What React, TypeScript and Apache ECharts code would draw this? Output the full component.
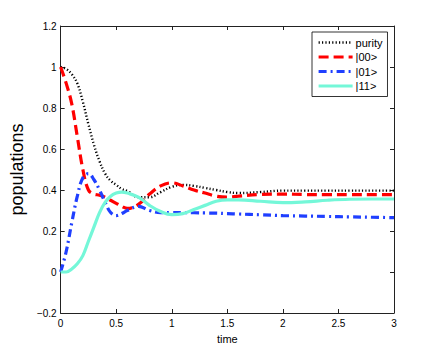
import React, { useEffect, useRef } from "react";
import * as echarts from "echarts";

const times = [0, 0.05, 0.1, 0.15, 0.2, 0.25, 0.3, 0.35, 0.4, 0.45, 0.5, 0.55, 0.6, 0.7, 0.8, 0.9, 1.0, 1.1, 1.2, 1.3, 1.4, 1.5, 1.6, 1.8, 2.0, 2.2, 2.4, 2.6, 2.8, 3.0];
const purity = [1.0, 0.99, 0.965, 0.92, 0.83, 0.72, 0.62, 0.54, 0.48, 0.445, 0.425, 0.405, 0.395, 0.365, 0.365, 0.39, 0.415, 0.425, 0.42, 0.41, 0.40, 0.39, 0.385, 0.39, 0.397, 0.397, 0.397, 0.397, 0.397, 0.397];
const pop00 = [1.0, 0.92, 0.82, 0.66, 0.50, 0.40, 0.38, 0.375, 0.365, 0.35, 0.335, 0.32, 0.31, 0.33, 0.38, 0.42, 0.435, 0.42, 0.40, 0.385, 0.37, 0.365, 0.37, 0.378, 0.38, 0.378, 0.377, 0.377, 0.377, 0.377];
const pop01 = [0, 0.10, 0.24, 0.37, 0.46, 0.48, 0.45, 0.40, 0.34, 0.29, 0.275, 0.285, 0.30, 0.32, 0.30, 0.29, 0.29, 0.29, 0.289, 0.288, 0.287, 0.285, 0.283, 0.279, 0.275, 0.273, 0.271, 0.269, 0.267, 0.265];
const pop11 = [0, 0.0, 0.015, 0.04, 0.08, 0.15, 0.22, 0.29, 0.34, 0.37, 0.385, 0.39, 0.385, 0.365, 0.325, 0.295, 0.28, 0.285, 0.305, 0.325, 0.345, 0.352, 0.352, 0.345, 0.338, 0.342, 0.35, 0.355, 0.356, 0.356];
const seriesNames = ["purity", "|00>", "|01>", "|11>"];

const FONT = "Liberation Sans, Arial, Helvetica, sans-serif";

export default function App() {
  const ref = useRef<HTMLDivElement>(null);
  useEffect(() => {
    if (!ref.current) return;
    const chart = echarts.init(ref.current, null, { renderer: "svg" });
    const pair = (vals: number[]) => times.map((t, i) => [t, vals[i]]);
    const axisLine = { show: true, onZero: false, lineStyle: { color: "#222", width: 1 } };
    const tick = { show: true, inside: true, length: 4, lineStyle: { color: "#222" } };
    const fmt = (v: number) => {
      const r = parseFloat(v.toFixed(2));
      return r < 0 ? "\u2212" + String(-r) : String(r);
    };
    chart.setOption({
      animation: false,
      backgroundColor: "#fff",
      textStyle: { fontFamily: FONT },
      grid: { left: 56, top: 26, width: 338, height: 287, containLabel: false },
      legend: {
        data: seriesNames,
        left: 312,
        top: 32,
        orient: "vertical",
        itemWidth: 34,
        itemHeight: 10,
        itemGap: 3.5,
        padding: [5, 5, 5, 5],
        borderColor: "#000",
        borderWidth: 0.8,
        backgroundColor: "#fff",
        itemStyle: { opacity: 0 },
        lineStyle: { width: "inherit" },
        textStyle: { fontFamily: FONT, fontSize: 11, color: "#000", padding: [0, 0, 0, -2] },
      },
      xAxis: [
        {
          type: "value", min: 0, max: 3, interval: 0.5, position: "bottom",
          axisLine, axisTick: tick, splitLine: { show: false },
          axisLabel: { fontSize: 10, color: "#000", margin: 5, formatter: fmt, fontFamily: FONT },
          name: "time", nameLocation: "middle", nameGap: 20,
          nameTextStyle: { fontSize: 11, color: "#000", fontFamily: FONT },
        },
        {
          type: "value", min: 0, max: 3, interval: 0.5, position: "top",
          axisLine, axisTick: tick, splitLine: { show: false }, axisLabel: { show: false },
        },
      ],
      yAxis: [
        {
          type: "value", min: -0.2, max: 1.2, interval: 0.2, position: "left",
          axisLine, axisTick: tick, splitLine: { show: false },
          axisLabel: { fontSize: 10, color: "#000", margin: 4, formatter: fmt, fontFamily: FONT },
          name: "populations", nameLocation: "middle", nameGap: 33,
          nameTextStyle: { fontSize: 18, color: "#000", fontFamily: FONT },
        },
        {
          type: "value", min: -0.2, max: 1.2, interval: 0.2, position: "right",
          axisLine, axisTick: tick, splitLine: { show: false }, axisLabel: { show: false },
        },
      ],
      series: [
        {
          name: seriesNames[0], type: "line", data: pair(purity), smooth: 0.4, showSymbol: false, symbol: "none",
          lineStyle: { color: "#000", width: 2.4, type: [1.2, 2.2] }, itemStyle: { color: "#000" },
        },
        {
          name: seriesNames[1], type: "line", data: pair(pop00), smooth: 0.4, showSymbol: false, symbol: "none",
          lineStyle: { color: "#ff0000", width: 3.2, type: [10, 5] }, itemStyle: { color: "#ff0000" },
        },
        {
          name: seriesNames[2], type: "line", data: pair(pop01), smooth: 0.4, showSymbol: false, symbol: "none",
          lineStyle: { color: "#1f3fff", width: 3.2, type: [8, 4, 2, 4] }, itemStyle: { color: "#1f3fff" },
        },
        {
          name: seriesNames[3], type: "line", data: pair(pop11), smooth: 0.4, showSymbol: false, symbol: "none",
          lineStyle: { color: "#74f7d8", width: 3.2, type: "solid" }, itemStyle: { color: "#74f7d8" },
        },
      ],
    });
    return () => chart.dispose();
  }, []);
  return <div ref={ref} style={{ width: 436, height: 354, position: "absolute", left: 0, top: 0 }} />;
}
